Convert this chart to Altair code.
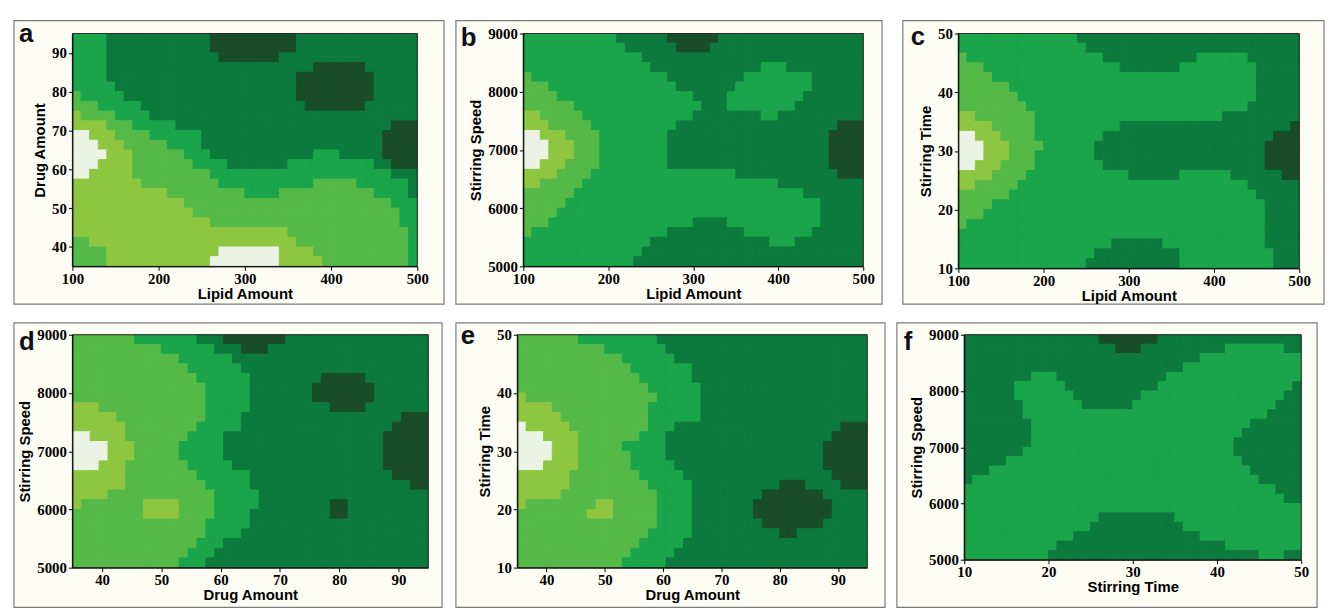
import altair as alt
import pandas as pd

# ---------------- data ----------------
panel_letters = ["a", "b", "c", "d", "e", "f"]
x_titles = ["Lipid Amount", "Lipid Amount", "Lipid Amount", "Drug Amount", "Drug Amount", "Stirring Time"]
y_titles = ["Drug Amount", "Stirring Speed", "Stirring Time", "Stirring Speed", "Stirring Time", "Stirring Speed"]
x_domains = [[100, 500], [100, 500], [100, 500], [35, 95], [35, 95], [10, 50]]
y_domains = [[35, 95], [5000, 9000], [10, 50], [5000, 9000], [10, 50], [5000, 9000]]
x_ticks = [
    [100, 200, 300, 400, 500],
    [100, 200, 300, 400, 500],
    [100, 200, 300, 400, 500],
    [40, 50, 60, 70, 80, 90],
    [40, 50, 60, 70, 80, 90],
    [10, 20, 30, 40, 50],
]
y_ticks = [
    [40, 50, 60, 70, 80, 90],
    [5000, 6000, 7000, 8000, 9000],
    [10, 20, 30, 40, 50],
    [5000, 6000, 7000, 8000, 9000],
    [10, 20, 30, 40, 50],
    [5000, 6000, 7000, 8000, 9000],
]

# contour level of each grid cell (0 = lightest ... 5 = darkest), rows top -> bottom,
# written as run lengths "level x count" over 40 columns
grid_a = [
    "3x4 4x12 5x10 4x14",
    "3x4 4x12 5x10 4x14",
    "3x4 4x13 5x7 4x16",
    "3x4 4x24 5x6 4x6",
    "3x4 4x22 5x9 4x5",
    "3x5 4x21 5x9 4x5",
    "2x1 3x5 4x20 5x9 4x5",
    "2x3 3x5 4x19 5x7 4x6",
    "1x1 2x4 3x4 4x31",
    "1x4 2x3 3x5 4x25 5x3",
    "0x2 1x3 2x4 3x6 4x21 5x4",
    "0x3 1x3 2x5 3x4 4x21 5x4",
    "0x4 1x3 2x6 3x3 4x12 3x3 4x5 5x4",
    "0x3 1x4 2x7 3x4 4x7 3x10 4x2 5x3",
    "0x2 1x5 2x9 3x21 4x3",
    "1x8 2x9 3x11 2x5 3x6 4x1",
    "1x11 2x9 3x4 2x11 3x4 4x1",
    "1x13 2x24 3x3",
    "1x14 2x24 3x2",
    "1x16 2x22 3x2",
    "1x25 2x14 3x1",
    "2x2 1x24 2x13 3x1",
    "2x4 1x13 0x7 1x4 2x11 3x1",
    "2x4 1x12 0x8 1x5 2x10 3x1",
]
grid_b = [
    "3x11 4x6 5x6 4x17",
    "3x12 4x6 5x4 4x18",
    "3x14 4x26",
    "3x15 4x13 3x3 4x9",
    "2x1 3x16 4x9 3x8 4x6",
    "2x3 3x15 4x7 3x9 4x6",
    "2x4 3x16 4x4 3x9 4x7",
    "2x6 3x15 4x3 3x8 4x8",
    "1x2 2x5 3x13 4x8 3x2 4x10",
    "1x3 2x5 3x10 4x19 5x3",
    "0x2 1x3 2x4 3x8 4x19 5x4",
    "0x3 1x3 2x3 3x8 4x19 5x4",
    "0x3 1x3 2x3 3x8 4x19 5x4",
    "0x2 1x3 2x4 3x8 4x19 5x4",
    "1x4 2x4 3x17 4x12 5x3",
    "1x2 2x5 3x23 4x10",
    "2x6 3x27 4x7",
    "2x5 3x30 4x5",
    "2x4 3x31 4x5",
    "2x3 3x17 4x4 3x11 4x5",
    "2x1 3x16 4x9 3x8 4x6",
    "3x15 4x14 3x3 4x8",
    "3x14 4x26",
    "3x13 4x27",
]
grid_c = [
    "3x14 4x26",
    "3x15 4x25",
    "2x1 3x16 4x11 3x6 4x6",
    "2x3 3x16 4x7 3x9 4x5",
    "2x4 3x31 4x5",
    "2x6 3x29 4x5",
    "2x7 3x28 4x5",
    "2x8 3x26 4x6",
    "1x2 2x7 3x22 4x9",
    "1x4 2x5 3x10 4x20 5x1",
    "0x2 1x3 2x4 3x8 4x20 5x3",
    "0x3 1x3 2x4 3x6 4x20 5x4",
    "0x3 1x3 2x3 3x7 4x20 5x4",
    "0x2 1x3 2x4 3x8 4x19 5x4",
    "1x4 2x4 3x12 4x6 3x6 4x6 5x2",
    "1x2 2x5 3x27 4x6",
    "2x6 3x29 4x5",
    "2x4 3x32 4x4",
    "2x3 3x33 4x4",
    "2x1 3x35 4x4",
    "3x36 4x4",
    "3x18 4x6 3x12 4x4",
    "3x16 4x10 3x11 4x3",
    "3x15 4x11 3x11 4x3",
]
grid_d = [
    "2x7 3x7 4x3 5x7 4x16",
    "2x10 3x6 4x3 5x3 4x18",
    "2x12 3x6 4x22",
    "2x13 3x6 4x21",
    "2x14 3x6 4x8 5x5 4x7",
    "2x15 3x5 4x7 5x7 4x6",
    "2x15 3x5 4x7 5x7 4x6",
    "1x3 2x12 3x5 4x9 5x4 4x7",
    "1x5 2x10 3x4 4x18 5x3",
    "1x6 2x8 3x5 4x17 5x4",
    "0x2 1x4 2x7 3x4 4x18 5x5",
    "0x4 1x3 2x5 3x5 4x18 5x5",
    "0x4 1x3 2x5 3x5 4x18 5x5",
    "0x3 1x3 2x7 3x5 4x17 5x5",
    "1x6 2x8 3x6 4x16 5x4",
    "1x6 2x9 3x5 4x18 5x2",
    "1x4 2x12 3x5 4x19",
    "1x1 2x7 1x4 2x4 3x5 4x8 5x2 4x9",
    "2x8 1x4 2x4 3x4 4x9 5x2 4x9",
    "2x15 3x5 4x20",
    "2x15 3x4 4x21",
    "2x14 3x3 4x23",
    "2x13 3x3 4x24",
    "2x12 3x3 4x25",
]
grid_e = [
    "2x7 3x9 4x24",
    "2x10 3x7 4x23",
    "2x12 3x6 4x22",
    "2x13 3x7 4x20",
    "2x14 3x6 4x20",
    "2x15 3x6 4x19",
    "1x1 2x15 3x5 4x19",
    "1x4 2x11 3x6 4x19",
    "1x5 2x10 3x6 4x19",
    "0x1 1x5 2x9 3x3 4x19 5x3",
    "0x3 1x4 2x7 3x3 4x19 5x4",
    "0x4 1x3 2x5 3x5 4x18 5x5",
    "0x4 1x3 2x6 3x4 4x18 5x5",
    "0x3 1x4 2x6 3x5 4x17 5x5",
    "1x6 2x8 3x5 4x17 5x4",
    "1x6 2x9 3x5 4x10 5x3 4x4 5x3",
    "1x5 2x11 3x4 4x8 5x7 4x5",
    "1x1 2x8 1x2 2x5 3x4 4x7 5x9 4x4",
    "2x8 1x3 2x5 3x4 4x7 5x9 4x4",
    "2x16 3x4 4x8 5x7 4x5",
    "2x15 3x5 4x10 5x2 4x8",
    "2x14 3x5 4x21",
    "2x13 3x5 4x22",
    "2x12 3x5 4x23",
]
grid_f = [
    "4x16 5x7 4x17",
    "4x18 5x3 4x10 3x7 4x2",
    "4x28 3x12",
    "4x26 3x14",
    "4x8 3x3 4x13 3x16",
    "4x6 3x6 4x11 3x16 4x1",
    "4x6 3x7 4x8 3x17 4x2",
    "4x7 3x7 4x6 3x17 4x3",
    "4x7 3x29 4x4",
    "4x8 3x26 4x6",
    "4x8 3x25 4x7",
    "4x8 3x24 4x8",
    "4x7 3x25 4x8",
    "4x5 3x28 4x7",
    "4x3 3x31 4x6",
    "4x1 3x34 4x5",
    "3x37 4x3",
    "3x38 4x2",
    "3x40",
    "3x16 4x9 3x15",
    "3x15 4x11 3x14",
    "3x13 4x15 3x12",
    "3x11 4x20 3x9",
    "3x10 4x25 3x3 4x2",
]
grids = [grid_a, grid_b, grid_c, grid_d, grid_e, grid_f]

levels = [0, 1, 2, 3, 4, 5]
level_colors = ["#eaf3e4", "#8ec641", "#55b948", "#1aa54b", "#0c7a3d", "#194d27"]

NC = 40


def decode(rows):
    out = []
    for r in rows:
        cells = []
        for tok in r.split():
            lv, n = tok.split("x")
            cells += [int(lv)] * int(n)
        if len(cells) < NC:
            cells += [cells[-1]] * (NC - len(cells))
        out.append(cells[:NC])
    return out


def cell_table(i):
    g = decode(grids[i])
    nr = len(g)
    x0, x1 = x_domains[i]
    y0, y1 = y_domains[i]
    dx = (x1 - x0) / NC
    dy = (y1 - y0) / nr
    recs = []
    for r, row in enumerate(g):
        for c, lv in enumerate(row):
            recs.append({
                "xa": x0 + c * dx, "xb": x0 + (c + 1) * dx,
                "ya": y1 - (r + 1) * dy, "yb": y1 - r * dy,
                "level": lv,
            })
    return pd.DataFrame(recs)


# ---------------- layout (pixels) ----------------
# plot width/height, frame margins left/right/top/bottom, letter position
layout = [
    dict(W=348, H=235, L=59, R=27, T=13, B=38, lx=-54, ly=9),
    dict(W=343, H=235, L=68, R=19, T=13, B=38, lx=-63, ly=13),
    dict(W=344, H=237, L=56, R=25, T=13, B=36, lx=-48, ly=12),
    dict(W=359, H=235, L=59, R=14, T=12, B=40, lx=-54, ly=15),
    dict(W=353, H=235, L=62, R=18, T=12, B=40, lx=-57, ly=9),
    dict(W=340, H=227, L=68, R=16, T=12, B=48, lx=-61, ly=15),
]

cscale = alt.Scale(domain=levels, range=level_colors)

axis_style = dict(
    format="d", grid=False, zindex=1, labelFlush=False, labelOverlap=False,
    labelFont="Liberation Serif", labelFontWeight="bold", labelFontSize=15, labelColor="#000000",
    titleFont="Liberation Sans", titleFontWeight="bold", titleFontSize=15, titleColor="#000000",
    tickColor="#000000", tickSize=4, domainColor="#000000", domainWidth=1,
)


def panel(i):
    p = layout[i]
    W, H = p["W"], p["H"]
    frame = alt.Chart(pd.DataFrame({"k": [0]})).mark_rect(
        fill="#fdfdf6", stroke="#7c7c7c", strokeWidth=1.2
    ).encode(
        x=alt.value(-p["L"]), x2=alt.value(W + p["R"]),
        y=alt.value(-p["T"]), y2=alt.value(H + p["B"]),
    )
    cells = alt.Chart(cell_table(i)).mark_rect(strokeWidth=1).encode(
        x=alt.X("xa:Q", scale=alt.Scale(domain=x_domains[i], nice=False, zero=False),
                axis=alt.Axis(values=x_ticks[i], title=x_titles[i],
                              labelPadding=1, titlePadding=0, **axis_style)),
        x2="xb:Q",
        y=alt.Y("ya:Q", scale=alt.Scale(domain=y_domains[i], nice=False, zero=False),
                axis=alt.Axis(values=y_ticks[i], title=y_titles[i],
                              labelPadding=2, titlePadding=4, **axis_style)),
        y2="yb:Q",
        color=alt.Color("level:O", scale=cscale, legend=None),
        stroke=alt.Stroke("level:O", scale=cscale, legend=None),
    )
    border = alt.Chart(pd.DataFrame({"k": [0]})).mark_rect(
        fillOpacity=0, stroke="#2b2b2b", strokeWidth=1
    ).encode(
        x=alt.value(0), x2=alt.value(W), y=alt.value(0), y2=alt.value(H),
    )
    letter = alt.Chart(pd.DataFrame({"t": [panel_letters[i]]})).mark_text(
        align="left", baseline="alphabetic", font="Liberation Sans",
        fontSize=26, fontWeight="bold", color="#111111"
    ).encode(x=alt.value(p["lx"]), y=alt.value(p["ly"]), text="t:N")
    return alt.layer(frame, cells, border, letter).properties(width=W, height=H)


chart = alt.concat(
    *[panel(i) for i in range(6)],
    columns=3,
    spacing={"row": 17, "column": 10},
    align="none",
    bounds="full",
).properties(
    padding={"left": 5, "top": 9, "right": 0, "bottom": 0},
    background="#ffffff",
).configure_view(
    stroke=None
)

chart.save("out.html", embed_options={"renderer": "svg", "actions": False})
